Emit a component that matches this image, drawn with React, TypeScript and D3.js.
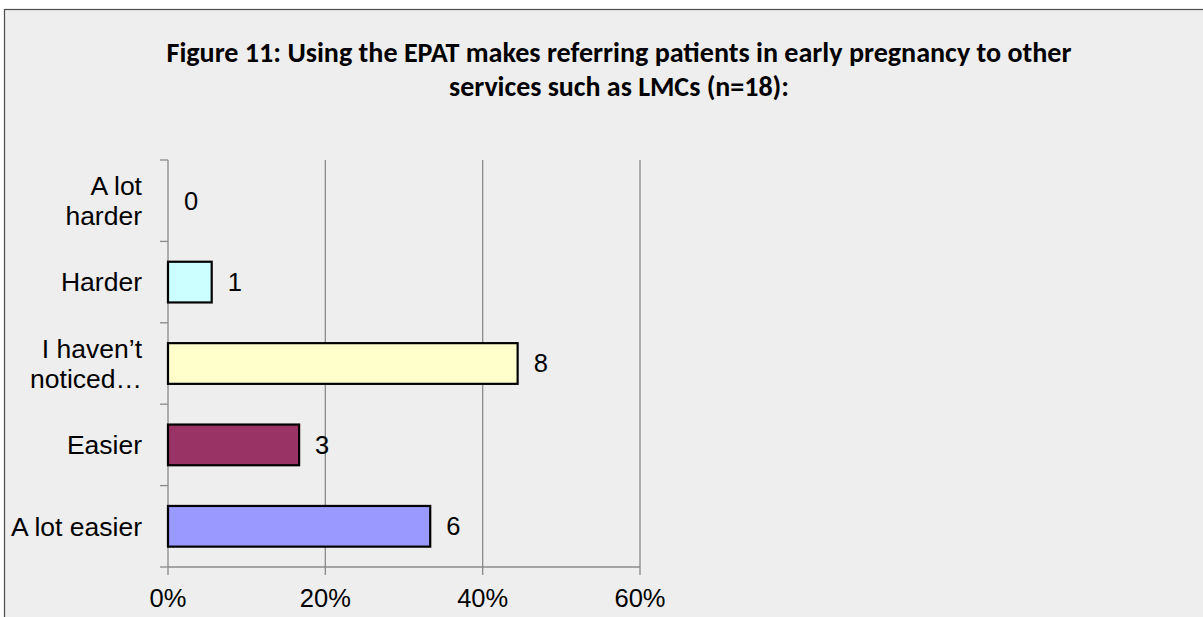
import React, { useEffect, useRef } from 'react';
import * as d3 from 'd3';

const titleLines = [
  'Figure 11: Using the EPAT makes referring patients in early pregnancy to other',
  'services such as LMCs (n=18):',
];
const categories = ['A lot harder', 'Harder', "I haven't noticed", 'Easier', 'A lot easier'];
const categoryLabels = [['A lot', 'harder'], ['Harder'], ['I haven\u2019t', 'noticed\u2026'], ['Easier'], ['A lot easier']];
const counts = [0, 1, 8, 3, 6];
const total = 18;
const barColors = ['#ccffff', '#ccffff', '#ffffcc', '#993366', '#9999ff'];
const xTicks = [0, 0.2, 0.4, 0.6];

const W = 1203;
const H = 617;

const App = () => {
  const ref = useRef<SVGSVGElement>(null);

  useEffect(() => {
    const svg = d3.select(ref.current);
    svg.selectAll('*').remove();

    // chart area background + border (only top/left visible)
    svg.append('rect').attr('x', 0).attr('y', 0).attr('width', W).attr('height', H).attr('fill', '#ffffff');
    svg
      .append('rect')
      .attr('x', 4.5)
      .attr('y', 9.5)
      .attr('width', W + 20)
      .attr('height', H + 20)
      .attr('fill', '#eeeeee')
      .attr('stroke', '#4d4d4d')
      .attr('stroke-width', 1.2);

    svg
      .append('g')
      .selectAll('text')
      .data(titleLines)
      .enter()
      .append('text')
      .attr('x', 619)
      .attr('y', (d, i) => 62 + i * 34)
      .attr('text-anchor', 'middle')
      .attr('font-family', "Carlito, 'Open Sans', 'Noto Sans', sans-serif")
      .attr('font-weight', 'bold')
      .attr('font-size', 28)
      .attr('textLength', (d, i) => (i === 0 ? 905 : 340))
      .attr('lengthAdjust', 'spacingAndGlyphs')
      .attr('fill', '#000')
      .text((d) => d);

    const x = d3.scaleLinear().domain([0, 0.6]).range([168, 640]);
    const y = d3.scaleBand().domain(categories).range([160, 567]).paddingInner(0.5).paddingOuter(0.25);
    const [y0, y1] = y.range();
    const step = y.step();

    const font = "'Liberation Sans', Arial, sans-serif";
    const axisColor = '#8a8a8a';

    // vertical gridlines
    svg
      .append('g')
      .selectAll('line')
      .data(xTicks.slice(1))
      .enter()
      .append('line')
      .attr('x1', (d) => x(d))
      .attr('x2', (d) => x(d))
      .attr('y1', y0)
      .attr('y2', y1)
      .attr('stroke', axisColor)
      .attr('stroke-width', 1.3);

    // y axis with ticks at band boundaries
    const yAxis = svg.append('g');
    yAxis
      .append('line')
      .attr('x1', x(0))
      .attr('x2', x(0))
      .attr('y1', y0)
      .attr('y2', y1)
      .attr('stroke', axisColor)
      .attr('stroke-width', 1.3);
    yAxis
      .selectAll('line.tick')
      .data(d3.range(categories.length + 1))
      .enter()
      .append('line')
      .attr('class', 'tick')
      .attr('x1', x(0) - 8)
      .attr('x2', x(0))
      .attr('y1', (i) => y0 + i * step)
      .attr('y2', (i) => y0 + i * step)
      .attr('stroke', axisColor)
      .attr('stroke-width', 1.3);

    // x axis
    const xAxis = svg.append('g');
    xAxis
      .append('line')
      .attr('x1', x(0))
      .attr('x2', x(0.6))
      .attr('y1', y1)
      .attr('y2', y1)
      .attr('stroke', axisColor)
      .attr('stroke-width', 1.3);
    xAxis
      .selectAll('line.tick')
      .data(xTicks)
      .enter()
      .append('line')
      .attr('class', 'tick')
      .attr('x1', (d) => x(d))
      .attr('x2', (d) => x(d))
      .attr('y1', y1)
      .attr('y2', y1 + 8)
      .attr('stroke', axisColor)
      .attr('stroke-width', 1.3);
    xAxis
      .selectAll('text')
      .data(xTicks)
      .enter()
      .append('text')
      .attr('x', (d) => x(d))
      .attr('y', y1 + 31)
      .attr('dy', '0.35em')
      .attr('text-anchor', 'middle')
      .attr('font-family', font)
      .attr('font-size', 25.5)
      .attr('fill', '#000')
      .text((d) => d3.format('.0%')(d));

    // category labels
    const labels = svg.append('g');
    categories.forEach((c, i) => {
      const lines = categoryLabels[i];
      const cy = (y(c) as number) + y.bandwidth() / 2;
      lines.forEach((line, j) => {
        labels
          .append('text')
          .attr('x', x(0) - 26)
          .attr('y', cy + (j - (lines.length - 1) / 2) * 30)
          .attr('dy', '0.35em')
          .attr('text-anchor', 'end')
          .attr('font-family', font)
          .attr('font-size', 26.5)
          .attr('fill', '#000')
          .text(line);
      });
    });

    const data = categories.map((c, i) => ({ c, count: counts[i], p: counts[i] / total, color: barColors[i] }));

    // bars
    svg
      .append('g')
      .selectAll('rect')
      .data(data.filter((d) => d.count > 0))
      .enter()
      .append('rect')
      .attr('x', x(0))
      .attr('y', (d) => y(d.c) as number)
      .attr('width', (d) => x(d.p) - x(0))
      .attr('height', y.bandwidth())
      .attr('fill', (d) => d.color)
      .attr('stroke', '#000')
      .attr('stroke-width', 2.2);

    // value labels
    svg
      .append('g')
      .selectAll('text')
      .data(data)
      .enter()
      .append('text')
      .attr('x', (d) => x(d.p) + 16)
      .attr('y', (d) => (y(d.c) as number) + y.bandwidth() / 2)
      .attr('dy', '0.35em')
      .attr('font-family', font)
      .attr('font-size', 25.5)
      .attr('fill', '#000')
      .text((d) => d.count);
  }, []);

  return <svg ref={ref} width={W} height={H} style={{ position: 'absolute', left: 0, top: 0 }}></svg>;
};

export default App;
